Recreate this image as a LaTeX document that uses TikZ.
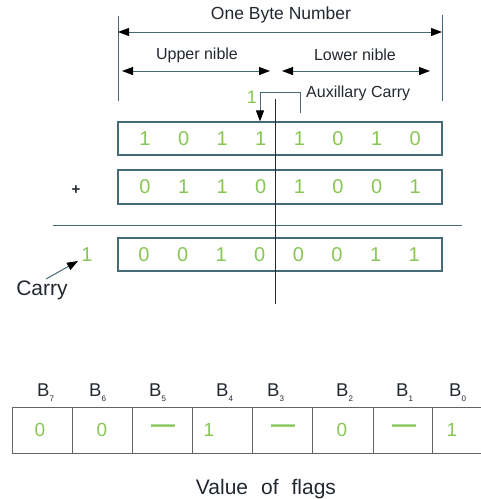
\documentclass[tikz,border=0pt]{standalone}
\usepackage{fontspec}
\setmainfont{Liberation Sans}
\usetikzlibrary{arrows.meta}
\definecolor{bitgreen}{RGB}{135,198,85}
\definecolor{rulec}{RGB}{70,105,120}
\definecolor{ink}{RGB}{35,40,48}
\definecolor{gridc}{RGB}{95,100,105}
\begin{document}
\begin{tikzpicture}[x=1pt,y=-1pt,
  lbl/.style={text=ink,inner sep=0pt,font=\fontsize{16}{16}\selectfont},
  bit/.style={text=bitgreen,inner sep=0pt,font=\fontsize{20}{20}\selectfont},
  flagbit/.style={text=bitgreen,inner sep=0pt,font=\fontsize{19}{19}\selectfont},
  flagdash/.style={text=bitgreen,inner sep=0pt,font=\fontsize{24}{24}\bfseries},
  regbox/.style={draw=rulec,line width=1.1pt,minimum width=324pt,minimum height=33pt,inner sep=0pt},
  cell/.style={draw=gridc,line width=0.9pt,minimum width=60pt,minimum height=46pt,inner sep=0pt},
  bitname/.style={text=ink,inner sep=0pt,anchor=base west,font=\fontsize{18.5}{18.5}\selectfont},
  dim/.style={draw=rulec,line width=0.9pt,{Triangle[length=11pt,width=8pt,color=black]}-{Triangle[length=11pt,width=8pt,color=black]}},
  guide/.style={draw=rulec,line width=1pt},
]
\useasboundingbox (0,0) rectangle (481,499);

% ---- dimension lines above the registers ----
\coordinate (byteL) at (118,32);
\coordinate (byteR) at (442,32);
\coordinate (extLt) at (118,16);
\coordinate (extLb) at (118,101);
\coordinate (extRt) at (442,15);
\coordinate (extRb) at (442,101);
\draw[guide] (extLt) -- (extLb);
\draw[guide] (extRt) -- (extRb);
\draw[dim] (byteL) -- (byteR);
\node[lbl,font=\fontsize{17.5}{17.5}\selectfont] (byte) at (281,15) {One Byte Number};

\coordinate (upL) at (122,71);
\coordinate (upR) at (270,71);
\coordinate (loL) at (282,71);
\coordinate (loR) at (430,71);
\draw[dim] (upL) -- (upR);
\draw[dim] (loL) -- (loR);
\node[lbl] (upper) at (197,55) {Upper nible};
\node[lbl] (lower) at (355,55) {Lower nible};

% ---- registers ----
\node[regbox] (r1) at (280,138.5) {};
\node[regbox,minimum height=34pt] (r2) at (280,187) {};
\node[regbox] (r3) at (280,254.5) {};

\foreach \v [count=\i from 0] in {1,0,1,1,1,0,1,0}
  \node[bit] (a\i) at (145+38.6*\i,138.5) {\v};
\foreach \v [count=\i from 0] in {0,1,1,0,1,0,0,1}
  \node[bit] (b\i) at (145+38.6*\i,187) {\v};
\foreach \v [count=\i from 0] in {0,0,1,0,0,0,1,1}
  \node[bit] (s\i) at (144+38.6*\i,254.5) {\v};

\node[lbl,font=\fontsize{15}{15}\bfseries] (plus) at (76,190) {+};

% result rule
\coordinate (sumL) at (53,225);
\coordinate (sumR) at (462,225);
\draw[guide,line width=0.9pt] (sumL) -- (sumR);

% nibble boundary
\coordinate (splitT) at (275,99);
\coordinate (splitB) at (275,304);
\draw[ink,line width=1pt] (splitT) -- (splitB);

% ---- auxiliary carry ----
\node[bit,font=\fontsize{18}{18}\selectfont] (aux1) at (252,97) {1};
\coordinate (auxR) at (300,113);
\coordinate (auxL) at (260,92);
\draw[guide,-{Triangle[length=11pt,width=8pt,color=black]}] (auxR) |- (auxL) -- (auxL |- r1.north);
\node[lbl,anchor=west] (auxlbl) at (306,93) {Auxillary Carry};

% ---- final carry ----
\node[bit] (c1) at (87,255) {1};
\node[lbl,font=\fontsize{21}{21}\selectfont] (carry) at (42,290) {Carry};
\coordinate (carryT) at (46,279);
\coordinate (carryH) at (78,261);
\draw[guide,-{Triangle[length=11pt,width=8pt,color=black]}] (carryT) -- (carryH);

% ---- flag register ----
\foreach \xa/\xb [count=\k] in {12/72,72/132,132/192,192/252,252/312,312/373,373/432,432/492}
  \node[cell,minimum width={\xb-\xa}] (f\k) at ({(\xa+\xb)/2},430) {};

\foreach \xl/\n in {37/7,89/6,149/5,216/4,267/3,336/2,396/1,449/0}
  \node[bitname] (bn\n) at (\xl,396) {B\raisebox{-5pt}{\fontsize{8}{8}\selectfont\n}};

\node[flagbit] (v7) at (40,430) {0};
\node[flagbit] (v6) at (102,430) {0};
\node[flagdash] (v5) at (163,429) {—};
\node[flagbit] (v4) at (209,430) {1};
\node[flagdash] (v3) at (283,429) {—};
\node[flagbit] (v2) at (342,430) {0};
\node[flagdash] (v1) at (404,429) {—};
\node[flagbit] (v0) at (452,430) {1};

\node[lbl,font=\fontsize{21}{21}\selectfont] (flags) at (266,489) {Value\hspace{13pt}of\hspace{13pt}flags};
\end{tikzpicture}
\end{document}
